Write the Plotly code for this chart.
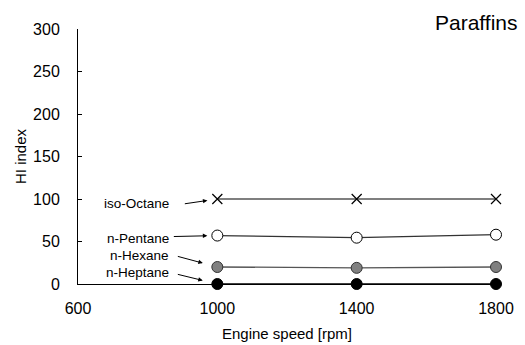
import plotly.graph_objects as go

speed = [1000, 1400, 1800]
iso_octane = [100, 100, 100]
n_pentane = [57, 54.5, 58]
n_hexane = [20, 19, 20]
n_heptane = [0, 0, 0]

x_ticks = [600, 1000, 1400, 1800]
y_ticks = [0, 50, 100, 150, 200, 250, 300]

fig = go.Figure()
fig.add_trace(go.Scatter(x=speed, y=n_heptane, mode="lines+markers",
                         line=dict(color="black", width=1.3),
                         marker=dict(symbol="circle", size=11, color="black", line=dict(color="black", width=1))))
fig.add_trace(go.Scatter(x=speed, y=n_hexane, mode="lines+markers",
                         line=dict(color="#555555", width=1.3),
                         marker=dict(symbol="circle", size=11, color="#808080", line=dict(color="#333333", width=1))))
fig.add_trace(go.Scatter(x=speed, y=n_pentane, mode="lines+markers",
                         line=dict(color="#333333", width=1.3),
                         marker=dict(symbol="circle", size=11, color="white", line=dict(color="black", width=1))))
fig.add_trace(go.Scatter(x=speed, y=iso_octane, mode="lines+markers",
                         line=dict(color="black", width=1.1),
                         marker=dict(symbol="x-thin", size=10, color="black", line=dict(color="black", width=1.2))))

# arrows: (head y value, tail offset px, standoff)
arrows = [(100, -34, 5, 10), (57, -45, 1, 10), (20, -41, -11, 15), (0, -41, -10, 15)]
for yv, ax, ay, so in arrows:
    fig.add_annotation(x=1000, y=yv, ax=ax, ay=ay, xref="x", yref="y", axref="pixel", ayref="pixel",
                       text="", showarrow=True, arrowhead=2, arrowsize=0.9, arrowwidth=1, arrowcolor="black",
                       standoff=so)
# label texts
text_pos = [("iso-Octane", 95.3), ("n-Pentane", 54), ("n-Hexane", 34), ("n-Heptane", 14)]
for name, yv in text_pos:
    fig.add_annotation(x=1000, y=yv, xref="x", yref="y", text=name, showarrow=False,
                       xanchor="right", xshift=-46, font=dict(size=13.5, color="black"))

fig.add_annotation(x=1, y=1.027, xref="paper", yref="paper", text="Paraffins", showarrow=False,
                   xanchor="right", yanchor="middle", xshift=24, font=dict(size=21, color="black"))

fig.update_layout(
    width=525, height=345, margin=dict(l=78, r=29, t=29, b=61),
    plot_bgcolor="white", paper_bgcolor="white", showlegend=False,
    font=dict(family="Arial, Liberation Sans, sans-serif", size=15, color="black"),
)
fig.update_xaxes(range=[600, 1800], tickvals=x_ticks, showgrid=False, zeroline=False,
                 showline=True, linecolor="black", linewidth=1, ticks="", ticklen=0,
                 ticklabelstandoff=10, automargin=False,
                 title=dict(text="Engine speed [rpm]", font=dict(size=15), standoff=12),
                 tickfont=dict(size=16))
fig.update_yaxes(range=[0, 300], tickvals=y_ticks, showgrid=False, zeroline=False,
                 showline=True, linecolor="black", linewidth=1, ticks="inside", ticklen=4, tickcolor="black",
                 ticklabelstandoff=14, automargin=False,
                 title=dict(text="HI index", font=dict(size=15), standoff=2),
                 tickfont=dict(size=16))
for tr in fig.data:
    tr.cliponaxis = False

fig.write_html("out.html")
